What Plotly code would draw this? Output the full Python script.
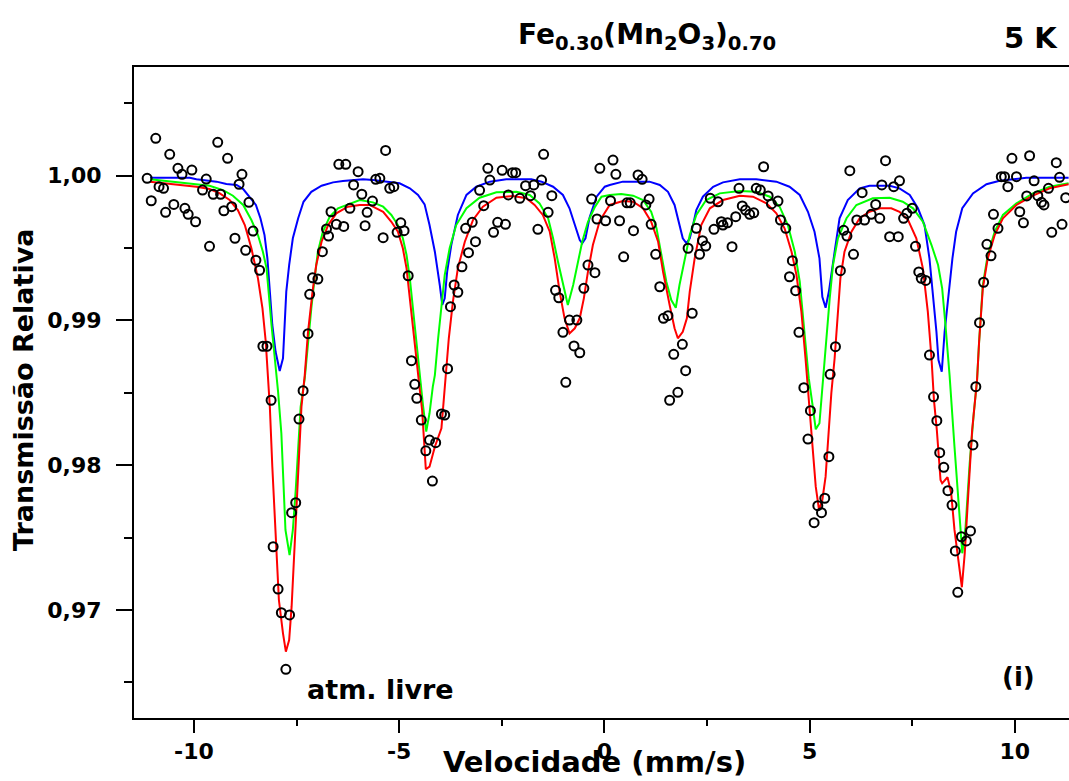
import plotly.graph_objects as go

# Measured spectrum: velocity (mm/s) and relative transmission
vel = [-11.14, -11.04, -10.93, -10.85, -10.74, -10.69, -10.59, -10.49, -10.39, -10.29,
       -10.22, -10.14, -10.05, -9.96, -9.79, -9.70, -9.62, -9.53, -9.42, -9.35,
       -9.27, -9.18, -9.08, -9.00, -8.90, -8.83, -8.74, -8.66, -8.56, -8.49,
       -8.40, -8.32, -8.22, -8.12, -8.07, -7.95, -7.87, -7.76, -7.67, -7.62,
       -7.52, -7.44, -7.34, -7.22, -7.18, -7.11, -6.98, -6.87, -6.77, -6.72,
       -6.66, -6.53, -6.47, -6.35, -6.30, -6.20, -6.11, -6.00, -5.91, -5.83,
       -5.78, -5.65, -5.57, -5.47, -5.39, -5.33, -5.23, -5.13, -5.05, -4.96,
       -4.88, -4.78, -4.70, -4.62, -4.57, -4.46, -4.35, -4.26, -4.19, -4.11,
       -3.97, -3.89, -3.82, -3.75, -3.66, -3.57, -3.47, -3.38, -3.31, -3.22,
       -3.14, -3.04, -2.94, -2.84, -2.79, -2.70, -2.60, -2.49, -2.41, -2.34,
       -2.24, -2.16, -2.06, -1.92, -1.80, -1.72, -1.62, -1.53, -1.48, -1.37,
       -1.28, -1.19, -1.11, -1.01, -0.94, -0.85, -0.74, -0.67, -0.60, -0.50,
       -0.40, -0.31, -0.23, -0.18, -0.11, 0.03, 0.15, 0.21, 0.28, 0.37,
       0.47, 0.55, 0.63, 0.71, 0.82, 0.92, 1.01, 1.09, 1.14, 1.25,
       1.35, 1.44, 1.55, 1.59, 1.69, 1.79, 1.90, 1.98, 2.04, 2.14,
       2.24, 2.32, 2.39, 2.47, 2.58, 2.67, 2.77, 2.85, 2.89, 3.00,
       3.11, 3.20, 3.28, 3.36, 3.44, 3.54, 3.64, 3.70, 3.80, 3.88,
       3.99, 4.07, 4.23, 4.29, 4.42, 4.51, 4.58, 4.66, 4.74, 4.86,
       4.96, 5.02, 5.11, 5.20, 5.29, 5.37, 5.47, 5.50, 5.63, 5.75,
       5.83, 5.91, 5.98, 6.07, 6.15, 6.28, 6.34, 6.50, 6.61, 6.71,
       6.76, 6.85, 6.95, 7.05, 7.16, 7.19, 7.29, 7.37, 7.50, 7.58,
       7.66, 7.72, 7.83, 7.92, 8.02, 8.10, 8.17, 8.27, 8.37, 8.47,
       8.55, 8.61, 8.70, 8.82, 8.92, 8.98, 9.05, 9.14, 9.24, 9.32,
       9.42, 9.48, 9.59, 9.67, 9.75, 9.83, 9.93, 10.04, 10.12, 10.21,
       10.29, 10.36, 10.47, 10.56, 10.65, 10.71, 10.82, 10.90, 11.01, 11.09,
       11.15, 11.24]
trans = [0.99982, 0.99827, 1.00258, 0.99924, 0.99913, 0.99747, 1.00148, 0.99802, 1.00051, 1.00010,
         0.99775, 0.99733, 1.00039, 0.99682, 0.99901, 0.99977, 0.99512, 0.99872, 1.00231, 0.99872,
         0.99758, 1.00120, 0.99786, 0.99568, 0.99941, 1.00010, 0.99485, 0.99816, 0.99618, 0.99416,
         0.99347, 0.98822, 0.98822, 0.98449, 0.97437, 0.97145, 0.96981, 0.96590, 0.96966, 0.97672,
         0.97741, 0.98319, 0.98515, 0.98909, 0.99181, 0.99295, 0.99286, 0.99475, 0.99632, 0.99583,
         0.99751, 0.99664, 1.00079, 0.99650, 1.00079, 0.99775, 0.99936, 1.00028, 0.99872, 0.99655,
         0.99747, 0.99825, 0.99975, 0.99982, 0.99572, 1.00175, 0.99913, 0.99924, 0.99609, 0.99675,
         0.99620, 0.99309, 0.98722, 0.98559, 0.98462, 0.98312, 0.98100, 0.98174, 0.97891, 0.98156,
         0.98354, 0.98347, 0.98667, 0.99095, 0.99245, 0.99195, 0.99371, 0.99637, 0.99468, 0.99678,
         0.99544, 0.99899, 0.99793, 1.00051, 0.99970, 0.99609, 0.99678, 1.00037, 0.99664, 0.99867,
         1.00021, 1.00021, 0.99844, 0.99931, 0.99862, 0.99936, 0.99630, 0.99970, 1.00148, 0.99747,
         0.99862, 0.99208, 0.99157, 0.98918, 0.98573, 0.99003, 0.98824, 0.99003, 0.98777, 0.99222,
         0.99383, 0.99839, 0.99330, 0.99701, 1.00051, 0.99689, 0.99827, 1.00108, 1.00010, 0.99689,
         0.99440, 0.99813, 0.99813, 0.99620, 1.00005, 0.99975, 0.99798, 0.99839, 0.99664, 0.99457,
         0.99233, 0.99015, 0.99033, 0.98449, 0.98766, 0.98504, 0.98835, 0.98653, 0.99499, 0.99050,
         0.99637, 0.99457, 0.99551, 0.99514, 0.99844, 0.99630, 0.99820, 0.99682, 0.99659, 0.99675,
         0.99510, 0.99717, 0.99913, 0.99791, 0.99763, 0.99733, 0.99744, 0.99913, 0.99901, 1.00062,
         0.99860, 0.99805, 0.99825, 0.99694, 0.99637, 0.99302, 0.99413, 0.99206, 0.98918, 0.98536,
         0.98181, 0.98377, 0.97603, 0.97721, 0.97672, 0.97772, 0.98059, 0.98628, 0.98819, 0.99344,
         0.99623, 0.99583, 1.00035, 0.99457, 0.99694, 0.99883, 0.99694, 0.99733, 0.99802, 0.99706,
         0.99936, 1.00104, 0.99579, 0.99924, 0.99579, 0.99965, 0.99706, 0.99740, 0.99775, 0.99512,
         0.99335, 0.99291, 0.99277, 0.98761, 0.98473, 0.98308, 0.98087, 0.97986, 0.97824, 0.97725,
         0.97408, 0.97122, 0.97506, 0.97477, 0.97546, 0.98140, 0.98543, 0.98985, 0.99264, 0.99526,
         0.99447, 0.99733, 0.99637, 0.99993, 0.99993, 0.99924, 1.00120, 0.99993, 0.99751, 0.99675,
         0.99860, 1.00138, 0.99965, 0.99862, 0.99816, 0.99798, 0.99913, 0.99609, 1.00090, 0.99989,
         0.99664, 0.99848]

# Subspectrum 1 (blue sextet)
blue_v = [-11.07, -10.10, -9.94, -9.70, -9.45, -9.21, -8.96, -8.80, -8.64, -8.49,
          -8.38, -8.28, -8.21, -8.15, -8.09, -8.01, -7.91, -7.83, -7.79, -7.75,
          -7.68, -7.59, -7.46, -7.33, -7.14, -6.89, -6.61, -6.37, -5.88, -5.64,
          -4.99, -4.74, -4.54, -4.38, -4.26, -4.13, -4.01, -3.95, -3.89, -3.83,
          -3.73, -3.57, -3.36, -3.12, -2.79, -2.39, -1.78, -1.53, -1.25, -1.01,
          -0.85, -0.72, -0.60, -0.54, -0.46, -0.36, -0.19, 0.01, 0.13, 0.45,
          1.10, 1.35, 1.55, 1.71, 1.82, 1.91, 2.00, 2.08, 2.16, 2.24,
          2.40, 2.65, 2.89, 3.30, 3.70, 4.19, 4.51, 4.76, 4.96, 5.12,
          5.24, 5.31, 5.39, 5.47, 5.61, 5.73, 5.93, 6.22, 6.46, 6.95,
          7.19, 7.44, 7.64, 7.80, 7.92, 8.02, 8.09, 8.14, 8.22, 8.29,
          8.37, 8.48, 8.57, 8.72, 8.98, 9.31, 9.63, 10.28, 11.31]
blue_t = [0.99986, 0.99986, 0.99975, 0.99968, 0.99959, 0.99943, 0.99936, 0.99908, 0.99855, 0.99798,
          0.99706, 0.99590, 0.99429, 0.99199, 0.98969, 0.98784, 0.98651, 0.98739, 0.98969, 0.99199,
          0.99383, 0.99568, 0.99706, 0.99820, 0.99889, 0.99931, 0.99954, 0.99963, 0.99975, 0.99970,
          0.99948, 0.99913, 0.99867, 0.99802, 0.99659, 0.99475, 0.99245, 0.99107, 0.99153, 0.99337,
          0.99521, 0.99729, 0.99867, 0.99924, 0.99959, 0.99975, 0.99975, 0.99959, 0.99924, 0.99867,
          0.99775, 0.99659, 0.99556, 0.99533, 0.99568, 0.99712, 0.99855, 0.99924, 0.99936, 0.99959,
          0.99959, 0.99936, 0.99889, 0.99798, 0.99682, 0.99568, 0.99533, 0.99568, 0.99659, 0.99763,
          0.99855, 0.99924, 0.99954, 0.99975, 0.99975, 0.99959, 0.99924, 0.99867, 0.99751, 0.99613,
          0.99429, 0.99164, 0.99088, 0.99200, 0.99475, 0.99706, 0.99832, 0.99913, 0.99931, 0.99931,
          0.99913, 0.99867, 0.99775, 0.99659, 0.99429, 0.99153, 0.98922, 0.98727, 0.98646, 0.98922,
          0.99153, 0.99429, 0.99613, 0.99775, 0.99878, 0.99941, 0.99965, 0.99986, 0.99986]

# Subspectrum 2 (green sextet)
green_v = [-11.07, -10.43, -9.94, -9.62, -9.29, -9.05, -8.80, -8.60, -8.44, -8.32,
           -8.23, -8.17, -8.11, -8.03, -7.95, -7.87, -7.81, -7.77, -7.67, -7.59,
           -7.52, -7.46, -7.40, -7.30, -7.22, -7.14, -7.06, -6.98, -6.86, -6.69,
           -6.49, -6.20, -5.96, -5.64, -5.39, -5.19, -5.03, -4.91, -4.82, -4.74,
           -4.66, -4.58, -4.50, -4.42, -4.34, -4.26, -4.18, -4.13, -4.05, -3.97,
           -3.89, -3.77, -3.61, -3.36, -3.04, -2.63, -2.14, -1.82, -1.58, -1.37,
           -1.25, -1.13, -1.01, -0.89, -0.76, -0.64, -0.54, -0.40, -0.23, -0.07,
           0.13, 0.41, 0.70, 0.94, 1.14, 1.27, 1.39, 1.51, 1.63, 1.74,
           1.83, 1.96, 2.08, 2.24, 2.48, 2.81, 3.30, 3.70, 4.03, 4.27,
           4.47, 4.64, 4.76, 4.88, 4.98, 5.08, 5.15, 5.24, 5.31, 5.41,
           5.49, 5.57, 5.69, 5.90, 6.14, 6.54, 6.95, 7.27, 7.52, 7.76,
           7.97, 8.13, 8.23, 8.31, 8.41, 8.53, 8.64, 8.72, 8.80, 8.90,
           9.00, 9.08, 9.13, 9.22, 9.34, 9.51, 9.71, 10.04, 10.44, 10.85,
           11.31]
green_t = [0.99975, 0.99954, 0.99943, 0.99931, 0.99901, 0.99862, 0.99798, 0.99694, 0.99590, 0.99475,
           0.99360, 0.99153, 0.98969, 0.98739, 0.98508, 0.98221, 0.97875, 0.97553, 0.97380, 0.97553,
           0.97829, 0.98105, 0.98404, 0.98600, 0.98853, 0.99084, 0.99291, 0.99475, 0.99613, 0.99717,
           0.99775, 0.99809, 0.99832, 0.99816, 0.99786, 0.99729, 0.99659, 0.99568, 0.99452, 0.99291,
           0.99061, 0.98831, 0.98601, 0.98416, 0.98232, 0.98359, 0.98543, 0.98623, 0.98877, 0.99107,
           0.99314, 0.99499, 0.99659, 0.99775, 0.99848, 0.99885, 0.99889, 0.99867, 0.99809, 0.99706,
           0.99568, 0.99406, 0.99245, 0.99107, 0.99245, 0.99406, 0.99544, 0.99682, 0.99785, 0.99855,
           0.99867, 0.99874, 0.99862, 0.99832, 0.99751, 0.99637, 0.99452, 0.99268, 0.99141, 0.99088,
           0.99245, 0.99429, 0.99590, 0.99729, 0.99832, 0.99878, 0.99894, 0.99889, 0.99855, 0.99786,
           0.99659, 0.99475, 0.99268, 0.98900, 0.98600, 0.98400, 0.98248, 0.98290, 0.98550, 0.98900,
           0.99153, 0.99383, 0.99568, 0.99706, 0.99798, 0.99844, 0.99848, 0.99820, 0.99775, 0.99682,
           0.99521, 0.99383, 0.99222, 0.98969, 0.98623, 0.98128, 0.97714, 0.97392, 0.97575, 0.98013,
           0.98359, 0.98589, 0.98853, 0.99245, 0.99452, 0.99613, 0.99729, 0.99809, 0.99878, 0.99924,
           0.99948]

# Total fit (red)
red_v = [-11.07, -10.43, -9.94, -9.62, -9.37, -9.13, -8.93, -8.76, -8.60, -8.44,
         -8.33, -8.25, -8.20, -8.15, -8.09, -8.01, -7.93, -7.83, -7.76, -7.68,
         -7.62, -7.54, -7.46, -7.38, -7.30, -7.22, -7.11, -7.02, -6.89, -6.73,
         -6.53, -6.25, -5.96, -5.72, -5.39, -5.19, -5.03, -4.91, -4.82, -4.74,
         -4.66, -4.58, -4.50, -4.44, -4.40, -4.35, -4.26, -4.13, -3.97, -3.92,
         -3.87, -3.79, -3.69, -3.57, -3.40, -3.20, -2.96, -2.63, -2.23, -1.90,
         -1.70, -1.50, -1.33, -1.21, -1.09, -0.97, -0.85, -0.72, -0.60, -0.50,
         -0.40, -0.28, -0.11, 0.13, 0.45, 0.70, 0.94, 1.14, 1.31, 1.43,
         1.59, 1.71, 1.79, 1.91, 2.01, 2.08, 2.20, 2.36, 2.57, 2.89,
         3.30, 3.62, 3.95, 4.19, 4.39, 4.56, 4.68, 4.80, 4.90, 5.00,
         5.07, 5.15, 5.23, 5.31, 5.39, 5.47, 5.53, 5.61, 5.69, 5.75,
         5.85, 6.02, 6.22, 6.46, 6.71, 6.99, 7.19, 7.40, 7.60, 7.76,
         7.88, 7.97, 8.03, 8.10, 8.19, 8.23, 8.36, 8.45, 8.53, 8.64,
         8.71, 8.78, 8.86, 8.96, 9.08, 9.13, 9.22, 9.34, 9.51, 9.71,
         10.04, 10.44, 10.85, 11.31]
red_t = [0.99959, 0.99941, 0.99924, 0.99908, 0.99878, 0.99832, 0.99763, 0.99659, 0.99499, 0.99291,
         0.99084, 0.98853, 0.98601, 0.98400, 0.97990, 0.97484, 0.97069, 0.96839, 0.96712, 0.96793,
         0.97023, 0.97484, 0.97990, 0.98404, 0.98623, 0.98922, 0.99199, 0.99383, 0.99544, 0.99659,
         0.99740, 0.99786, 0.99798, 0.99798, 0.99751, 0.99682, 0.99613, 0.99499, 0.99360, 0.99153,
         0.98922, 0.98692, 0.98530, 0.98380, 0.98174, 0.97972, 0.97990, 0.98128, 0.98255, 0.98428,
         0.98601, 0.98877, 0.99130, 0.99360, 0.99544, 0.99694, 0.99786, 0.99848, 0.99860, 0.99844,
         0.99798, 0.99729, 0.99613, 0.99429, 0.99199, 0.99015, 0.98911, 0.98946, 0.99015, 0.99153,
         0.99337, 0.99521, 0.99690, 0.99798, 0.99825, 0.99820, 0.99775, 0.99682, 0.99544, 0.99337,
         0.99107, 0.98946, 0.98877, 0.98922, 0.99015, 0.99199, 0.99429, 0.99659, 0.99775, 0.99832,
         0.99862, 0.99855, 0.99809, 0.99740, 0.99637, 0.99475, 0.99314, 0.99061, 0.98739, 0.98380,
         0.98083, 0.97852, 0.97691, 0.97760, 0.97921, 0.98266, 0.98500, 0.98739, 0.99061, 0.99291,
         0.99475, 0.99613, 0.99706, 0.99751, 0.99775, 0.99775, 0.99751, 0.99694, 0.99568, 0.99360,
         0.99061, 0.98739, 0.98450, 0.98243, 0.97898, 0.97875, 0.97917, 0.97806, 0.97553, 0.97323,
         0.97157, 0.97392, 0.97783, 0.98243, 0.98589, 0.98853, 0.99222, 0.99429, 0.99590, 0.99706,
         0.99798, 0.99862, 0.99913, 0.99941]

x_ticks = [-10, -5, 0, 5, 10]
x_labels = ["-10", "-5", "0", "5", "10"]
y_ticks = [0.97, 0.98, 0.99, 1.00]
y_labels = ["0,97", "0,98", "0,99", "1,00"]

FONT = "DejaVu Sans"

fig = go.Figure()
fig.add_trace(go.Scatter(x=blue_v, y=blue_t, mode="lines",
                         line=dict(color="#0000ff", width=2)))
fig.add_trace(go.Scatter(x=green_v, y=green_t, mode="lines",
                         line=dict(color="#00ff00", width=2)))
fig.add_trace(go.Scatter(x=red_v, y=red_t, mode="lines",
                         line=dict(color="#ff0000", width=2)))
fig.add_trace(go.Scatter(x=vel, y=trans, mode="markers",
                         marker=dict(symbol="circle-open", size=9, color="black",
                                     line=dict(width=2, color="black"))))

# plot area spans pixels 134..1069 horizontally and 67..718 vertically
L, R, T, B = 134, 1069, 67, 718


def px(x):
    return (x - L) / (R - L)


def py(y):
    return (B - y) / (B - T)


fig.update_layout(
    width=1069, height=781,
    margin=dict(l=L, r=1069 - R, t=T, b=781 - B, pad=0),
    paper_bgcolor="white", plot_bgcolor="white",
    showlegend=False,
    font=dict(family=FONT, color="black"),
    xaxis=dict(range=[-11.46, 11.32], showgrid=False, zeroline=False,
               showline=True, linecolor="black", linewidth=2, mirror=True,
               ticks="outside", ticklen=13, tickwidth=2, tickcolor="black",
               tickvals=x_ticks, ticktext=x_labels,
               tickfont=dict(family=FONT, size=22, color="black", weight="bold"),
               minor=dict(ticks="outside", dtick=2.5, tick0=0, ticklen=6,
                          tickwidth=2, tickcolor="black")),
    yaxis=dict(range=[0.96254, 1.00751], showgrid=False, zeroline=False,
               showline=True, linecolor="black", linewidth=2, mirror=False,
               ticks="outside", ticklen=16, tickwidth=2, tickcolor="black",
               tickvals=y_ticks, ticktext=y_labels, ticklabelstandoff=10,
               tickfont=dict(family=FONT, size=22, color="black", weight="bold"),
               minor=dict(ticks="outside", dtick=0.005, tick0=0.96, ticklen=8,
                          tickwidth=2, tickcolor="black")),
)

bold = dict(family=FONT, color="black", weight="bold")
fig.add_annotation(text="Fe<sub>0.30</sub>(Mn<sub>2</sub>O<sub>3</sub>)<sub>0.70</sub>",
                   xref="paper", yref="paper", x=px(647), y=py(37),
                   xanchor="center", yanchor="middle", showarrow=False,
                   font=dict(size=28, **bold))
fig.add_annotation(text="5 K", xref="paper", yref="paper", x=px(1031), y=py(38),
                   xanchor="center", yanchor="middle", showarrow=False,
                   font=dict(size=29, **bold))
fig.add_annotation(text="atm. livre", xref="paper", yref="paper", x=px(380), y=py(689),
                   xanchor="center", yanchor="middle", showarrow=False,
                   font=dict(size=27, **bold))
fig.add_annotation(text="(i)", xref="paper", yref="paper", x=px(1018), y=py(677),
                   xanchor="center", yanchor="middle", showarrow=False,
                   font=dict(size=26, **bold))
fig.add_annotation(text="Velocidade (mm/s)", xref="paper", yref="paper",
                   x=px(594), y=py(762), xanchor="center", yanchor="middle",
                   showarrow=False, font=dict(size=29, **bold))
fig.add_annotation(text="Transmissão Relativa", xref="paper", yref="paper",
                   x=px(23), y=py(390), xanchor="center", yanchor="middle",
                   textangle=-90, showarrow=False, font=dict(size=27, **bold))

fig.write_html("out.html")
